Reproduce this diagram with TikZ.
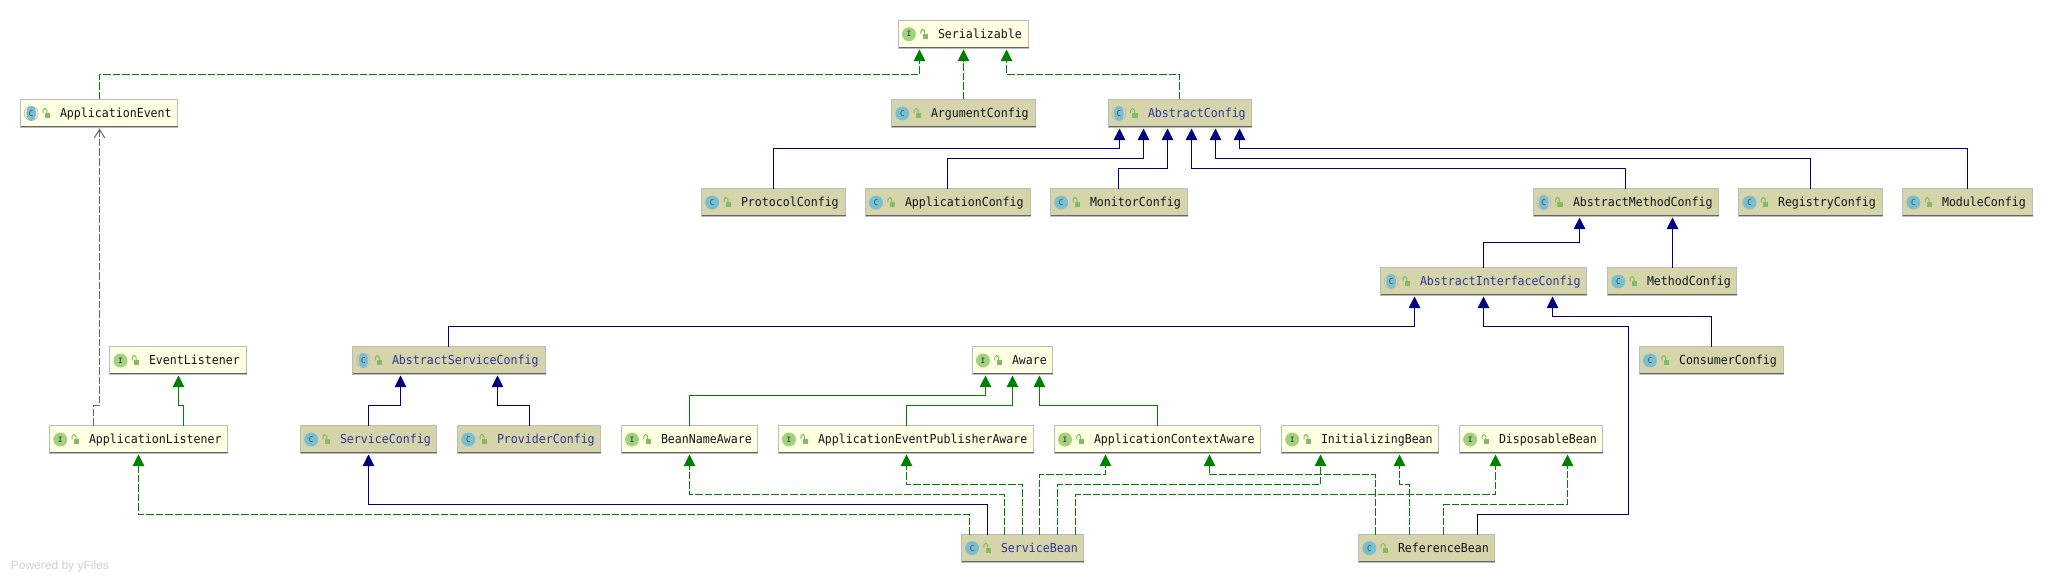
\documentclass[tikz,border=0pt]{standalone}
\usepackage{fontspec}
\setmainfont[FakeStretch=0.935]{DejaVu Sans Mono}
\newfontfamily\wmfont{Liberation Sans}
\usetikzlibrary{arrows.meta}
\definecolor{ifill}{HTML}{FFFFE4}
\definecolor{cfill}{HTML}{D6D4AB}
\definecolor{bord}{HTML}{BCBCBC}
\definecolor{botl}{HTML}{666666}
\definecolor{igreen}{HTML}{A3D27F}
\definecolor{cblue}{HTML}{79BFD2}
\definecolor{lockg}{HTML}{84BC64}
\definecolor{inkdark}{HTML}{141418}
\definecolor{inkblue}{HTML}{2B3A9A}
\definecolor{inkicon}{HTML}{3C4A40}
\definecolor{impl}{HTML}{008000}
\definecolor{ext}{HTML}{000080}
\definecolor{dep}{HTML}{666666}
\tikzset{
  umlbox/.style={rectangle,draw=bord,line width=1pt,inner sep=0pt,outer sep=0pt,
    anchor=north west,text height=11.4pt,text depth=2.6pt,
    font=\fontsize{12.4pt}{13pt}\selectfont,text=inkdark},
  yellowbox/.style={umlbox,fill=ifill},
  khakibox/.style={umlbox,fill=cfill},
  bluetext/.style={text=inkblue},
  bottomline/.style={draw=botl,line width=1.2pt},
  iconletter/.style={inner sep=0pt,outer sep=0pt,text=inkicon,font=\fontsize{7.5pt}{8pt}\selectfont\bfseries},
  solidgreen/.style={draw=impl,line width=1pt,shorten >=1pt,-{Triangle[length=11.7pt,width=11.7pt,fill=impl]}},
  dashgreen/.style={solidgreen,dash pattern=on 7.5pt off 2pt},
  solidnavy/.style={draw=ext,line width=1pt,shorten >=1pt,-{Triangle[length=11.7pt,width=11.7pt,fill=ext]}},
  dashgray/.style={draw=dep,line width=1pt,dash pattern=on 7.5pt off 2pt,shorten >=1pt,-{Straight Barb[length=8.5pt,width=10.5pt]}},
}
% \umlnode{name}{x1}{y1}{x2}{style}{icon I,C,A}{text style}{text}
\newcommand{\umlnode}[8]{%
  \pgfmathsetmacro{\nodex}{floor(#2)+0.5}%
  \pgfmathsetmacro{\nodey}{floor(#3)+0.5}%
  \pgfmathsetmacro{\nodew}{floor(#4)-floor(#2)}%
  \node[#5,minimum width=\nodew pt,minimum height=28pt,#7] (#1) at (\nodex,\nodey)
    {\makebox[\nodew pt][l]{\hspace*{39.5pt}#8}};
  \draw[bottomline] ([yshift=1pt]#1.south west) -- ([yshift=1pt]#1.south east);
  \begin{scope}[shift={(#2,#3)}]
    \ifx#6I
      \fill[igreen] (10.7,14.2) circle[radius=7pt];
      \node[iconletter] (#1-icon) at (10.7,14.2) {I};
    \fi
    \ifx#6C
      \fill[cblue] (10.7,14.2) circle[radius=7pt];
      \node[iconletter,font=\fontsize{8pt}{8pt}\selectfont] (#1-icon) at (10.7,14.2) {C};
    \fi
    \ifx#6A
      \draw[bord,line width=0.8pt] (10.7,14.2) circle[radius=7pt];
      \fill[cblue] (10.7,14.2) ellipse[x radius=4.9pt,y radius=7.4pt];
      \node[iconletter,font=\fontsize{8pt}{8pt}\selectfont] (#1-icon) at (10.7,14.2) {C};
    \fi
    \fill[lockg] (24.2,13.6) rectangle (29.6,19);
    \draw[lockg,line width=1pt] (22.6,14) -- (22.6,11) arc[start angle=180,end angle=0,radius=1.9pt] -- (26.4,13.6);
  \end{scope}
}
% \elbow{style}{from}{x from}{y mid}{to}{x to}
\newcommand{\elbow}[6]{%
  \pgfmathsetmacro{\xa}{floor(#3)+0.5}%
  \pgfmathsetmacro{\xb}{floor(#6)+0.5}%
  \pgfmathsetmacro{\ym}{floor(#4)+0.5}%
  \draw[#1] (#2.north -| \xa,0) -- (\xa,\ym) -- (\xb,\ym) -- (#5.south -| \xb,0);
}
% \straightup{style}{from}{to}{x}
\newcommand{\straightup}[4]{%
  \pgfmathsetmacro{\xa}{floor(#4)+0.5}%
  \draw[#1] (#2.north -| \xa,0) -- (#3.south -| \xa,0);
}
\begin{document}
\begin{tikzpicture}[x=1pt,y=-1pt]
\useasboundingbox (0,0) rectangle (2053,583);
\fill[white] (0,0) rectangle (2053,583);

\umlnode{serial}{898.3}{20}{1028}{yellowbox}{I}{}{Serializable}
\umlnode{appevent}{20.5}{99.3}{177.7}{yellowbox}{A}{}{ApplicationEvent}
\umlnode{argcfg}{891.6}{99.3}{1035}{khakibox}{C}{}{ArgumentConfig}
\umlnode{abscfg}{1108.1}{99.3}{1251.4}{khakibox}{A}{bluetext}{AbstractConfig}
\umlnode{protocfg}{701.4}{188.3}{845.2}{khakibox}{C}{}{ProtocolConfig}
\umlnode{appcfg}{865.3}{188.3}{1030}{khakibox}{C}{}{ApplicationConfig}
\umlnode{moncfg}{1050.5}{188.3}{1187.1}{khakibox}{C}{}{MonitorConfig}
\umlnode{absmeth}{1533}{188.3}{1718.8}{khakibox}{A}{}{AbstractMethodConfig}
\umlnode{regcfg}{1738.8}{188.3}{1882.6}{khakibox}{C}{}{RegistryConfig}
\umlnode{modcfg}{1902.7}{188.3}{2032.6}{khakibox}{C}{}{ModuleConfig}
\umlnode{absif}{1380.4}{267.3}{1586.6}{khakibox}{A}{bluetext}{AbstractInterfaceConfig}
\umlnode{methcfg}{1607.6}{267.3}{1736.6}{khakibox}{C}{}{MethodConfig}
\umlnode{evlist}{109.8}{346.3}{246}{yellowbox}{I}{}{EventListener}
\umlnode{abssvc}{352.7}{346.3}{545}{khakibox}{A}{bluetext}{AbstractServiceConfig}
\umlnode{aware}{972.3}{346.3}{1052.7}{yellowbox}{I}{}{Aware}
\umlnode{conscfg}{1639.3}{346.3}{1783}{khakibox}{C}{}{ConsumerConfig}
\umlnode{applist}{49.6}{425.3}{227.7}{yellowbox}{I}{}{ApplicationListener}
\umlnode{svccfg}{300.4}{425.3}{436.6}{khakibox}{C}{bluetext}{ServiceConfig}
\umlnode{provcfg}{457.6}{425.3}{600.4}{khakibox}{C}{bluetext}{ProviderConfig}
\umlnode{beanname}{621.3}{425.3}{757.7}{yellowbox}{I}{}{BeanNameAware}
\umlnode{publisher}{778.3}{425.3}{1033.7}{yellowbox}{I}{}{ApplicationEventPublisherAware}
\umlnode{context}{1054.3}{425.3}{1260.8}{yellowbox}{I}{}{ApplicationContextAware}
\umlnode{initbean}{1281.5}{425.3}{1438.6}{yellowbox}{I}{}{InitializingBean}
\umlnode{dispbean}{1459.4}{425.3}{1602.8}{yellowbox}{I}{}{DisposableBean}
\umlnode{svcbean}{961.3}{534}{1083.7}{khakibox}{C}{bluetext}{ServiceBean}
\umlnode{refbean}{1358.6}{534}{1494.6}{khakibox}{C}{}{ReferenceBean}

\node[anchor=west,inner sep=0pt,text=black!18,font=\wmfont\fontsize{12pt}{14pt}\selectfont] (powered) at (10.7,566.7) {Powered by yFiles};

% Serializable
\elbow{dashgreen}{appevent}{99.5}{74.3}{serial}{919.7}
\straightup{dashgreen}{argcfg}{serial}{963}
\elbow{dashgreen}{abscfg}{1179.6}{74.3}{serial}{1006.3}
% AbstractConfig
\elbow{solidnavy}{protocfg}{773.3}{148.3}{abscfg}{1119.7}
\elbow{solidnavy}{appcfg}{947.4}{158.3}{abscfg}{1143.8}
\elbow{solidnavy}{moncfg}{1118.4}{168.3}{abscfg}{1167.9}
\elbow{solidnavy}{absmeth}{1625.4}{168.3}{abscfg}{1191.6}
\elbow{solidnavy}{regcfg}{1810.3}{158.3}{abscfg}{1215.7}
\elbow{solidnavy}{modcfg}{1967.4}{148.3}{abscfg}{1239.8}
% AbstractMethodConfig
\elbow{solidnavy}{absif}{1483.5}{242.3}{absmeth}{1579.5}
\straightup{solidnavy}{methcfg}{absmeth}{1672.3}
% AbstractInterfaceConfig
\elbow{solidnavy}{abssvc}{448.7}{326.3}{absif}{1414.7}
\elbow{solidnavy}{conscfg}{1711.6}{316.3}{absif}{1552.7}
\draw[solidnavy] (refbean.north -| 1477.5,0) -- (1477.5,514.5) -- (1628.5,514.5) -- (1628.5,326.5) -- (1483.5,326.5) -- (absif.south -| 1483.5,0);
% listeners
\elbow{solidgreen}{applist}{183.5}{405.3}{evlist}{178.5}
\elbow{dashgray}{applist}{93.3}{405.3}{appevent}{99.5}
% service configs
\elbow{solidnavy}{svccfg}{368.3}{405.3}{abssvc}{400.4}
\elbow{solidnavy}{provcfg}{529.5}{405.3}{abssvc}{497.3}
% Aware
\elbow{solidgreen}{beanname}{689.3}{395.3}{aware}{985.3}
\elbow{solidgreen}{publisher}{906.3}{405.3}{aware}{1012.3}
\elbow{solidgreen}{context}{1157.5}{405.3}{aware}{1039.3}
% ServiceBean
\elbow{dashgreen}{svcbean}{969.3}{514.3}{applist}{138.4}
\elbow{solidnavy}{svcbean}{987.3}{504.3}{svccfg}{368.3}
\elbow{dashgreen}{svcbean}{1004.7}{494.3}{beanname}{689.3}
\elbow{dashgreen}{svcbean}{1022.7}{484.3}{publisher}{906.3}
\elbow{dashgreen}{svcbean}{1039.3}{474.3}{context}{1105.7}
\elbow{dashgreen}{svcbean}{1057.3}{484.3}{initbean}{1320.5}
\elbow{dashgreen}{svcbean}{1075.3}{494.3}{dispbean}{1495.4}
% ReferenceBean
\elbow{dashgreen}{refbean}{1375.6}{474.3}{context}{1209.4}
\elbow{dashgreen}{refbean}{1409.6}{484.3}{initbean}{1399.7}
\elbow{dashgreen}{refbean}{1443.6}{504.3}{dispbean}{1567.2}
\end{tikzpicture}
\end{document}
